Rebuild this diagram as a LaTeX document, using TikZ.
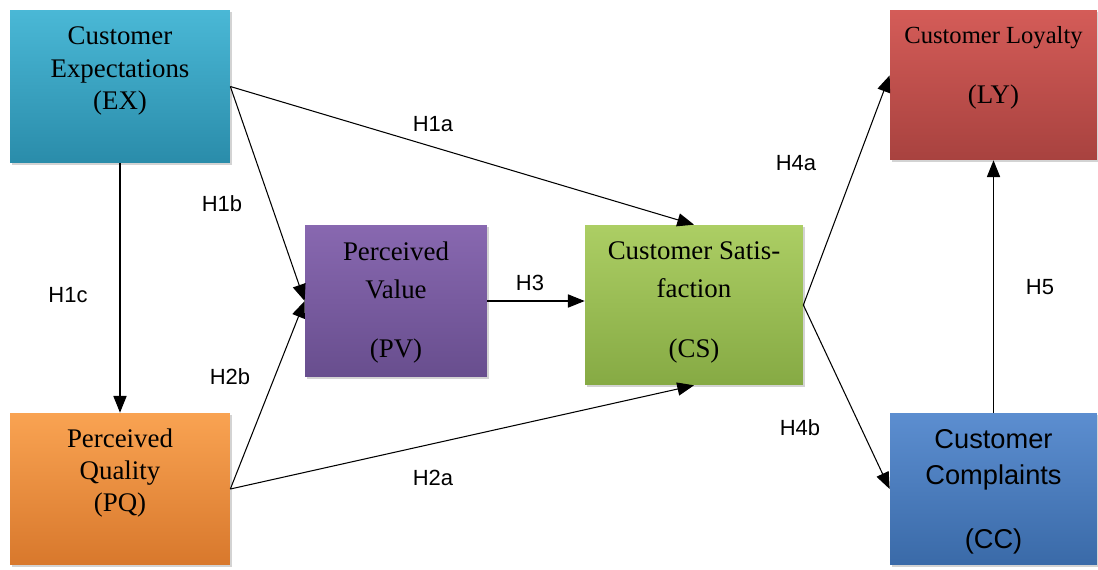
\documentclass[tikz,border=0pt]{standalone}
\usepackage{fontspec}
\setmainfont{Liberation Serif}
\setsansfont{Liberation Sans}
\usetikzlibrary{arrows.meta,shadows}
\definecolor{extop}{RGB}{74,184,214}
\definecolor{exbot}{RGB}{42,140,170}
\definecolor{pqtop}{RGB}{249,163,82}
\definecolor{pqbot}{RGB}{216,120,44}
\definecolor{pvtop}{RGB}{136,104,176}
\definecolor{pvbot}{RGB}{104,78,142}
\definecolor{cstop}{RGB}{172,206,100}
\definecolor{csbot}{RGB}{134,170,68}
\definecolor{lytop}{RGB}{212,92,88}
\definecolor{lybot}{RGB}{168,66,63}
\definecolor{cctop}{RGB}{92,142,208}
\definecolor{ccbot}{RGB}{58,106,168}

\begin{document}
\begin{tikzpicture}[
  x=0.02cm, y=-0.02cm,
  box/.style 2 args={inner sep=0pt, top color=#1, bottom color=#2,
    drop shadow={opacity=0.35, shadow xshift=1.2pt, shadow yshift=-1.2pt}},
  txt/.style={font=\fontsize{15.3}{18.4}\selectfont, align=center, inner sep=0pt},
  lbl/.style={font=\sffamily\fontsize{12.5}{15}\selectfont, inner sep=0pt},
  arrow/.style={-{Triangle[length=9.5pt,width=7.5pt]}, line width=0.6pt},
]
\useasboundingbox (0,0) rectangle (1098,569);

% Antecedents
\node[box={extop}{exbot}, minimum width=4.4cm, minimum height=3.06cm] (ex) at (120,86.5) {};
\node[txt] (ex-txt) at (120,71) {Customer\\Expectations\\(EX)};
\node[box={pqtop}{pqbot}, minimum width=4.4cm, minimum height=3.04cm] (pq) at (120,489) {};
\node[txt] (pq-txt) at (120,473) {Perceived\\Quality\\(PQ)};

% Mediators
\node[box={pvtop}{pvbot}, minimum width=3.64cm, minimum height=3.04cm] (pv) at (396,301) {};
\node[txt, font=\fontsize{15.3}{21.5}\selectfont] (pv-txt) at (396,270) {Perceived\\Value};
\node[txt] (pv-abbr) at (396,351) {(PV)};
\node[box={cstop}{csbot}, minimum width=4.36cm, minimum height=3.2cm] (cs) at (694,305) {};
\node[txt, font=\fontsize{15.3}{21.5}\selectfont] (cs-txt) at (694,270) {Customer Satis-\\faction};
\node[txt] (cs-abbr) at (694,351) {(CS)};

% Outcomes
\node[box={lytop}{lybot}, minimum width=4.14cm, minimum height=3.0cm] (ly) at (993.5,85) {};
\node[txt, font=\fontsize{14}{17}\selectfont] (ly-txt) at (993.5,38) {Customer Loyalty};
\node[txt] (ly-abbr) at (993.5,97) {(LY)};
\node[box={cctop}{ccbot}, minimum width=4.14cm, minimum height=3.04cm] (cc) at (993.5,489) {};
\node[txt, font=\sffamily\fontsize{15.5}{20.4}\selectfont] (cc-txt) at (993.5,460) {Customer\\Complaints};
\node[txt, font=\sffamily\fontsize{15.5}{20.4}\selectfont] (cc-abbr) at (993.5,541) {(CC)};

% Paths
\draw[arrow] (ex.east) -- (cs.north);
\draw[arrow] (ex.east) -- (pv.west);
\draw[arrow] (ex.south) -- (pq.north);
\draw[arrow] (pq.east) -- (pv.west);
\draw[arrow] (pq.east) -- (cs.south);
\draw[arrow] (pv.east) -- (pv.east -| cs.west);
\draw[arrow] (cs.east) -- ([yshift=5.5pt]ly.west);
\draw[arrow] (cs.east) -- (cc.west);
\draw[arrow] (cc.north) -- (ly.south);

% Hypotheses
\node[lbl] (h1a) at (433,124) {H1a};
\node[lbl] (h1b) at (222,204) {H1b};
\node[lbl] (h1c) at (68,295) {H1c};
\node[lbl] (h2b) at (230,377) {H2b};
\node[lbl] (h2a) at (433,478) {H2a};
\node[lbl] (h3) at (530,283) {H3};
\node[lbl] (h4a) at (796,163) {H4a};
\node[lbl] (h4b) at (800,428) {H4b};
\node[lbl] (h5) at (1040,287) {H5};
\end{tikzpicture}
\end{document}
